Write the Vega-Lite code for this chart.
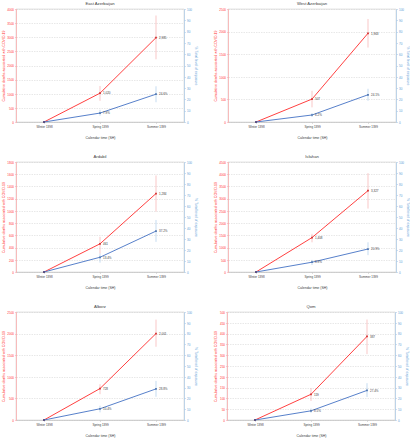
{
  "$schema": "https://vega.github.io/schema/vega-lite/v6.json",
  "padding": {"top": 1, "left": 1, "right": 0, "bottom": 0},
  "background": "white",
  "spacing": 14,
  "datasets": {
    "d": [
      {"r": "East Azerbaijan", "s": "Winter 1398", "d": 0, "p": 0},
      {"r": "East Azerbaijan", "s": "Spring 1399", "d": 1020, "dl": 750, "dh": 1275, "p": 7.9, "pl": 5.6, "ph": 10.8, "plab": "7.9%"},
      {"r": "East Azerbaijan", "s": "Summer 1399", "d": 2985, "dl": 2220, "dh": 3770, "p": 24.6, "pl": 17.5, "ph": 31.6, "plab": "24.6%"},
      {"r": "West Azerbaijan", "s": "Winter 1398", "d": 0, "p": 0},
      {"r": "West Azerbaijan", "s": "Spring 1399", "d": 507, "dl": 324, "dh": 691, "p": 6.2, "pl": 4.4, "ph": 7.9, "plab": "6.2%"},
      {"r": "West Azerbaijan", "s": "Summer 1399", "d": 1963, "dl": 1647, "dh": 2279, "p": 24.1, "pl": 18.8, "ph": 29.4, "plab": "24.1%"},
      {"r": "Ardabil", "s": "Winter 1398", "d": 0, "p": 0},
      {"r": "Ardabil", "s": "Spring 1399", "d": 461, "dl": 302, "dh": 576, "p": 13.4, "pl": 8.5, "ph": 16.8, "plab": "13.4%"},
      {"r": "Ardabil", "s": "Summer 1399", "d": 1284, "dl": 988, "dh": 1580, "p": 37.2, "pl": 27.4, "ph": 47.3, "plab": "37.2%"},
      {"r": "Isfahan", "s": "Winter 1398", "d": 0, "p": 0},
      {"r": "Isfahan", "s": "Spring 1399", "d": 1408, "dl": 1215, "dh": 1560, "p": 8.9, "pl": 6.4, "ph": 11.0, "plab": "8.9%"},
      {"r": "Isfahan", "s": "Summer 1399", "d": 3327, "dl": 2595, "dh": 4044, "p": 20.9, "pl": 15.3, "ph": 27.0, "plab": "20.9%"},
      {"r": "Alborz", "s": "Winter 1398", "d": 0, "p": 0},
      {"r": "Alborz", "s": "Spring 1399", "d": 728, "dl": 598, "dh": 828, "p": 10.4, "pl": 7.1, "ph": 13.2, "plab": "10.4%"},
      {"r": "Alborz", "s": "Summer 1399", "d": 2001, "dl": 1695, "dh": 2324, "p": 28.8, "pl": 21.5, "ph": 36.2, "plab": "28.8%"},
      {"r": "Qom", "s": "Winter 1398", "d": 0, "p": 0},
      {"r": "Qom", "s": "Spring 1399", "d": 119, "dl": 88, "dh": 148, "p": 8.5, "pl": 6.7, "ph": 10.7, "plab": "8.5%"},
      {"r": "Qom", "s": "Summer 1399", "d": 387, "dl": 305, "dh": 465, "p": 27.4, "pl": 21.3, "ph": 34.1, "plab": "27.4%"}
    ]
  },
  "config": {
    "font": "Liberation Sans",
    "view": {"stroke": "#c8c8c8", "strokeWidth": 0.6},
    "title": {"fontSize": 4.2, "fontWeight": "normal", "offset": 2, "color": "#404040"},
    "axis": {"labelFontSize": 3, "titleFontSize": 3.5, "titleFontWeight": "normal", "tickSize": 1.5, "labelPadding": 1, "titlePadding": 1.5, "domainWidth": 0.6, "tickWidth": 0.5, "labelOverlap": false, "labelFlush": false},
    "axisX": {"labelAngle": 0, "labelColor": "#404040", "titleColor": "#404040", "domainColor": "#bfbfbf", "tickColor": "#bfbfbf", "titlePadding": 7, "grid": false, "labelPadding": 2},
    "axisLeft": {"labelColor": "#ff3030", "titleColor": "#ff3030", "domainColor": "#ff9a9a", "tickColor": "#ff9a9a", "grid": true, "gridColor": "#d0d0d0", "gridDash": [1.5, 1], "gridWidth": 0.5, "format": "d"},
    "axisRight": {"labelColor": "#5b9bd5", "titleColor": "#5b9bd5", "domainColor": "#9dc3e6", "tickColor": "#9dc3e6", "grid": false, "format": "d"}
  },
  "vconcat": [
    {"spacing": 15, "hconcat": [
      {
        "title": "East Azerbaijan", "width": 168, "height": 113,
        "data": {"name": "d"}, "transform": [{"filter": "datum.r == 'East Azerbaijan'"}],
        "encoding": {"x": {"field": "s", "type": "ordinal", "sort": ["Winter 1398", "Spring 1399", "Summer 1399"], "scale": {"type": "point", "padding": 0.5}, "title": "Calendar time (SH)"}},
        "layer": [
          {"layer": [
            {"mark": {"type": "line", "color": "#ff2a2a", "strokeWidth": 0.9, "point": {"shape": "square", "size": 3, "color": "#c00000"}}, "encoding": {"y": {"field": "d", "type": "quantitative", "title": "Cumulative deaths associated with COVID-19", "scale": {"domain": [0, 4000], "nice": false}, "axis": {"values": [0, 500, 1000, 1500, 2000, 2500, 3000, 3500, 4000]}}}},
            {"mark": {"type": "rule", "color": "#f5a3a3", "strokeWidth": 0.6}, "transform": [{"filter": "datum.dl != null"}], "encoding": {"y": {"field": "dl", "type": "quantitative", "title": "Cumulative deaths associated with COVID-19", "axis": {"values": [0, 500, 1000, 1500, 2000, 2500, 3000, 3500, 4000]}}, "y2": {"field": "dh"}}},
            {"mark": {"type": "text", "align": "left", "dx": 3, "fontSize": 3, "color": "#404040"}, "transform": [{"filter": "datum.d > 0"}], "encoding": {"y": {"field": "d", "type": "quantitative", "title": "Cumulative deaths associated with COVID-19", "axis": {"values": [0, 500, 1000, 1500, 2000, 2500, 3000, 3500, 4000]}}, "text": {"field": "d", "type": "quantitative", "format": ",.0f"}}}
          ]},
          {"layer": [
            {"mark": {"type": "line", "color": "#4472c4", "strokeWidth": 0.9, "point": {"shape": "square", "size": 3, "color": "#2f5597"}}, "encoding": {"y": {"field": "p", "type": "quantitative", "title": "% Total level of exposure", "scale": {"domain": [0, 100], "nice": false}, "axis": {"values": [0, 10, 20, 30, 40, 50, 60, 70, 80, 90, 100]}}}},
            {"mark": {"type": "rule", "color": "#9dc3e6", "strokeWidth": 0.6}, "transform": [{"filter": "datum.pl != null"}], "encoding": {"y": {"field": "pl", "type": "quantitative", "title": "% Total level of exposure", "axis": {"values": [0, 10, 20, 30, 40, 50, 60, 70, 80, 90, 100]}}, "y2": {"field": "ph"}}},
            {"mark": {"type": "text", "align": "left", "dx": 3, "fontSize": 3, "color": "#404040"}, "transform": [{"filter": "datum.p > 0"}], "encoding": {"y": {"field": "p", "type": "quantitative", "title": "% Total level of exposure", "axis": {"values": [0, 10, 20, 30, 40, 50, 60, 70, 80, 90, 100]}}, "text": {"field": "plab"}}}
          ]}
        ],
        "resolve": {"scale": {"y": "independent"}}
      },
      {
        "title": "West Azerbaijan", "width": 168, "height": 113,
        "data": {"name": "d"}, "transform": [{"filter": "datum.r == 'West Azerbaijan'"}],
        "encoding": {"x": {"field": "s", "type": "ordinal", "sort": ["Winter 1398", "Spring 1399", "Summer 1399"], "scale": {"type": "point", "padding": 0.5}, "title": "Calendar time (SH)"}},
        "layer": [
          {"layer": [
            {"mark": {"type": "line", "color": "#ff2a2a", "strokeWidth": 0.9, "point": {"shape": "square", "size": 3, "color": "#c00000"}}, "encoding": {"y": {"field": "d", "type": "quantitative", "title": "Cumulative deaths associated with COVID-19", "scale": {"domain": [0, 2500], "nice": false}, "axis": {"values": [0, 500, 1000, 1500, 2000, 2500]}}}},
            {"mark": {"type": "rule", "color": "#f5a3a3", "strokeWidth": 0.6}, "transform": [{"filter": "datum.dl != null"}], "encoding": {"y": {"field": "dl", "type": "quantitative", "title": "Cumulative deaths associated with COVID-19", "axis": {"values": [0, 500, 1000, 1500, 2000, 2500]}}, "y2": {"field": "dh"}}},
            {"mark": {"type": "text", "align": "left", "dx": 3, "fontSize": 3, "color": "#404040"}, "transform": [{"filter": "datum.d > 0"}], "encoding": {"y": {"field": "d", "type": "quantitative", "title": "Cumulative deaths associated with COVID-19", "axis": {"values": [0, 500, 1000, 1500, 2000, 2500]}}, "text": {"field": "d", "type": "quantitative", "format": ",.0f"}}}
          ]},
          {"layer": [
            {"mark": {"type": "line", "color": "#4472c4", "strokeWidth": 0.9, "point": {"shape": "square", "size": 3, "color": "#2f5597"}}, "encoding": {"y": {"field": "p", "type": "quantitative", "title": "% Total level of exposure", "scale": {"domain": [0, 100], "nice": false}, "axis": {"values": [0, 10, 20, 30, 40, 50, 60, 70, 80, 90, 100]}}}},
            {"mark": {"type": "rule", "color": "#9dc3e6", "strokeWidth": 0.6}, "transform": [{"filter": "datum.pl != null"}], "encoding": {"y": {"field": "pl", "type": "quantitative", "title": "% Total level of exposure", "axis": {"values": [0, 10, 20, 30, 40, 50, 60, 70, 80, 90, 100]}}, "y2": {"field": "ph"}}},
            {"mark": {"type": "text", "align": "left", "dx": 3, "fontSize": 3, "color": "#404040"}, "transform": [{"filter": "datum.p > 0"}], "encoding": {"y": {"field": "p", "type": "quantitative", "title": "% Total level of exposure", "axis": {"values": [0, 10, 20, 30, 40, 50, 60, 70, 80, 90, 100]}}, "text": {"field": "plab"}}}
          ]}
        ],
        "resolve": {"scale": {"y": "independent"}}
      }
    ]},
    {"spacing": 15, "hconcat": [
      {
        "title": "Ardabil", "width": 168, "height": 110,
        "data": {"name": "d"}, "transform": [{"filter": "datum.r == 'Ardabil'"}],
        "encoding": {"x": {"field": "s", "type": "ordinal", "sort": ["Winter 1398", "Spring 1399", "Summer 1399"], "scale": {"type": "point", "padding": 0.5}, "title": "Calendar time (SH)"}},
        "layer": [
          {"layer": [
            {"mark": {"type": "line", "color": "#ff2a2a", "strokeWidth": 0.9, "point": {"shape": "square", "size": 3, "color": "#c00000"}}, "encoding": {"y": {"field": "d", "type": "quantitative", "title": "Cumulative deaths associated with COVID-19", "scale": {"domain": [0, 1800], "nice": false}, "axis": {"values": [0, 200, 400, 600, 800, 1000, 1200, 1400, 1600, 1800]}}}},
            {"mark": {"type": "rule", "color": "#f5a3a3", "strokeWidth": 0.6}, "transform": [{"filter": "datum.dl != null"}], "encoding": {"y": {"field": "dl", "type": "quantitative", "title": "Cumulative deaths associated with COVID-19", "axis": {"values": [0, 200, 400, 600, 800, 1000, 1200, 1400, 1600, 1800]}}, "y2": {"field": "dh"}}},
            {"mark": {"type": "text", "align": "left", "dx": 3, "fontSize": 3, "color": "#404040"}, "transform": [{"filter": "datum.d > 0"}], "encoding": {"y": {"field": "d", "type": "quantitative", "title": "Cumulative deaths associated with COVID-19", "axis": {"values": [0, 200, 400, 600, 800, 1000, 1200, 1400, 1600, 1800]}}, "text": {"field": "d", "type": "quantitative", "format": ",.0f"}}}
          ]},
          {"layer": [
            {"mark": {"type": "line", "color": "#4472c4", "strokeWidth": 0.9, "point": {"shape": "square", "size": 3, "color": "#2f5597"}}, "encoding": {"y": {"field": "p", "type": "quantitative", "title": "% Total level of exposure", "scale": {"domain": [0, 100], "nice": false}, "axis": {"values": [0, 10, 20, 30, 40, 50, 60, 70, 80, 90, 100]}}}},
            {"mark": {"type": "rule", "color": "#9dc3e6", "strokeWidth": 0.6}, "transform": [{"filter": "datum.pl != null"}], "encoding": {"y": {"field": "pl", "type": "quantitative", "title": "% Total level of exposure", "axis": {"values": [0, 10, 20, 30, 40, 50, 60, 70, 80, 90, 100]}}, "y2": {"field": "ph"}}},
            {"mark": {"type": "text", "align": "left", "dx": 3, "fontSize": 3, "color": "#404040"}, "transform": [{"filter": "datum.p > 0"}], "encoding": {"y": {"field": "p", "type": "quantitative", "title": "% Total level of exposure", "axis": {"values": [0, 10, 20, 30, 40, 50, 60, 70, 80, 90, 100]}}, "text": {"field": "plab"}}}
          ]}
        ],
        "resolve": {"scale": {"y": "independent"}}
      },
      {
        "title": "Isfahan", "width": 168, "height": 110,
        "data": {"name": "d"}, "transform": [{"filter": "datum.r == 'Isfahan'"}],
        "encoding": {"x": {"field": "s", "type": "ordinal", "sort": ["Winter 1398", "Spring 1399", "Summer 1399"], "scale": {"type": "point", "padding": 0.5}, "title": "Calendar time (SH)"}},
        "layer": [
          {"layer": [
            {"mark": {"type": "line", "color": "#ff2a2a", "strokeWidth": 0.9, "point": {"shape": "square", "size": 3, "color": "#c00000"}}, "encoding": {"y": {"field": "d", "type": "quantitative", "title": "Cumulative deaths associated with COVID-19", "scale": {"domain": [0, 4500], "nice": false}, "axis": {"values": [0, 500, 1000, 1500, 2000, 2500, 3000, 3500, 4000, 4500]}}}},
            {"mark": {"type": "rule", "color": "#f5a3a3", "strokeWidth": 0.6}, "transform": [{"filter": "datum.dl != null"}], "encoding": {"y": {"field": "dl", "type": "quantitative", "title": "Cumulative deaths associated with COVID-19", "axis": {"values": [0, 500, 1000, 1500, 2000, 2500, 3000, 3500, 4000, 4500]}}, "y2": {"field": "dh"}}},
            {"mark": {"type": "text", "align": "left", "dx": 3, "fontSize": 3, "color": "#404040"}, "transform": [{"filter": "datum.d > 0"}], "encoding": {"y": {"field": "d", "type": "quantitative", "title": "Cumulative deaths associated with COVID-19", "axis": {"values": [0, 500, 1000, 1500, 2000, 2500, 3000, 3500, 4000, 4500]}}, "text": {"field": "d", "type": "quantitative", "format": ",.0f"}}}
          ]},
          {"layer": [
            {"mark": {"type": "line", "color": "#4472c4", "strokeWidth": 0.9, "point": {"shape": "square", "size": 3, "color": "#2f5597"}}, "encoding": {"y": {"field": "p", "type": "quantitative", "title": "% Total level of exposure", "scale": {"domain": [0, 100], "nice": false}, "axis": {"values": [0, 10, 20, 30, 40, 50, 60, 70, 80, 90, 100]}}}},
            {"mark": {"type": "rule", "color": "#9dc3e6", "strokeWidth": 0.6}, "transform": [{"filter": "datum.pl != null"}], "encoding": {"y": {"field": "pl", "type": "quantitative", "title": "% Total level of exposure", "axis": {"values": [0, 10, 20, 30, 40, 50, 60, 70, 80, 90, 100]}}, "y2": {"field": "ph"}}},
            {"mark": {"type": "text", "align": "left", "dx": 3, "fontSize": 3, "color": "#404040"}, "transform": [{"filter": "datum.p > 0"}], "encoding": {"y": {"field": "p", "type": "quantitative", "title": "% Total level of exposure", "axis": {"values": [0, 10, 20, 30, 40, 50, 60, 70, 80, 90, 100]}}, "text": {"field": "plab"}}}
          ]}
        ],
        "resolve": {"scale": {"y": "independent"}}
      }
    ]},
    {"spacing": 15, "hconcat": [
      {
        "title": "Alborz", "width": 168, "height": 108,
        "data": {"name": "d"}, "transform": [{"filter": "datum.r == 'Alborz'"}],
        "encoding": {"x": {"field": "s", "type": "ordinal", "sort": ["Winter 1398", "Spring 1399", "Summer 1399"], "scale": {"type": "point", "padding": 0.5}, "title": "Calendar time (SH)"}},
        "layer": [
          {"layer": [
            {"mark": {"type": "line", "color": "#ff2a2a", "strokeWidth": 0.9, "point": {"shape": "square", "size": 3, "color": "#c00000"}}, "encoding": {"y": {"field": "d", "type": "quantitative", "title": "Cumulative deaths associated with COVID-19", "scale": {"domain": [0, 2500], "nice": false}, "axis": {"values": [0, 500, 1000, 1500, 2000, 2500]}}}},
            {"mark": {"type": "rule", "color": "#f5a3a3", "strokeWidth": 0.6}, "transform": [{"filter": "datum.dl != null"}], "encoding": {"y": {"field": "dl", "type": "quantitative", "title": "Cumulative deaths associated with COVID-19", "axis": {"values": [0, 500, 1000, 1500, 2000, 2500]}}, "y2": {"field": "dh"}}},
            {"mark": {"type": "text", "align": "left", "dx": 3, "fontSize": 3, "color": "#404040"}, "transform": [{"filter": "datum.d > 0"}], "encoding": {"y": {"field": "d", "type": "quantitative", "title": "Cumulative deaths associated with COVID-19", "axis": {"values": [0, 500, 1000, 1500, 2000, 2500]}}, "text": {"field": "d", "type": "quantitative", "format": ",.0f"}}}
          ]},
          {"layer": [
            {"mark": {"type": "line", "color": "#4472c4", "strokeWidth": 0.9, "point": {"shape": "square", "size": 3, "color": "#2f5597"}}, "encoding": {"y": {"field": "p", "type": "quantitative", "title": "% Total level of exposure", "scale": {"domain": [0, 100], "nice": false}, "axis": {"values": [0, 10, 20, 30, 40, 50, 60, 70, 80, 90, 100]}}}},
            {"mark": {"type": "rule", "color": "#9dc3e6", "strokeWidth": 0.6}, "transform": [{"filter": "datum.pl != null"}], "encoding": {"y": {"field": "pl", "type": "quantitative", "title": "% Total level of exposure", "axis": {"values": [0, 10, 20, 30, 40, 50, 60, 70, 80, 90, 100]}}, "y2": {"field": "ph"}}},
            {"mark": {"type": "text", "align": "left", "dx": 3, "fontSize": 3, "color": "#404040"}, "transform": [{"filter": "datum.p > 0"}], "encoding": {"y": {"field": "p", "type": "quantitative", "title": "% Total level of exposure", "axis": {"values": [0, 10, 20, 30, 40, 50, 60, 70, 80, 90, 100]}}, "text": {"field": "plab"}}}
          ]}
        ],
        "resolve": {"scale": {"y": "independent"}}
      },
      {
        "title": "Qom", "width": 168, "height": 108,
        "data": {"name": "d"}, "transform": [{"filter": "datum.r == 'Qom'"}],
        "encoding": {"x": {"field": "s", "type": "ordinal", "sort": ["Winter 1398", "Spring 1399", "Summer 1399"], "scale": {"type": "point", "padding": 0.5}, "title": "Calendar time (SH)"}},
        "layer": [
          {"layer": [
            {"mark": {"type": "line", "color": "#ff2a2a", "strokeWidth": 0.9, "point": {"shape": "square", "size": 3, "color": "#c00000"}}, "encoding": {"y": {"field": "d", "type": "quantitative", "title": "Cumulative deaths associated with COVID-19", "scale": {"domain": [0, 500], "nice": false}, "axis": {"values": [0, 50, 100, 150, 200, 250, 300, 350, 400, 450, 500]}}}},
            {"mark": {"type": "rule", "color": "#f5a3a3", "strokeWidth": 0.6}, "transform": [{"filter": "datum.dl != null"}], "encoding": {"y": {"field": "dl", "type": "quantitative", "title": "Cumulative deaths associated with COVID-19", "axis": {"values": [0, 50, 100, 150, 200, 250, 300, 350, 400, 450, 500]}}, "y2": {"field": "dh"}}},
            {"mark": {"type": "text", "align": "left", "dx": 3, "fontSize": 3, "color": "#404040"}, "transform": [{"filter": "datum.d > 0"}], "encoding": {"y": {"field": "d", "type": "quantitative", "title": "Cumulative deaths associated with COVID-19", "axis": {"values": [0, 50, 100, 150, 200, 250, 300, 350, 400, 450, 500]}}, "text": {"field": "d", "type": "quantitative", "format": ",.0f"}}}
          ]},
          {"layer": [
            {"mark": {"type": "line", "color": "#4472c4", "strokeWidth": 0.9, "point": {"shape": "square", "size": 3, "color": "#2f5597"}}, "encoding": {"y": {"field": "p", "type": "quantitative", "title": "% Total level of exposure", "scale": {"domain": [0, 100], "nice": false}, "axis": {"values": [0, 10, 20, 30, 40, 50, 60, 70, 80, 90, 100]}}}},
            {"mark": {"type": "rule", "color": "#9dc3e6", "strokeWidth": 0.6}, "transform": [{"filter": "datum.pl != null"}], "encoding": {"y": {"field": "pl", "type": "quantitative", "title": "% Total level of exposure", "axis": {"values": [0, 10, 20, 30, 40, 50, 60, 70, 80, 90, 100]}}, "y2": {"field": "ph"}}},
            {"mark": {"type": "text", "align": "left", "dx": 3, "fontSize": 3, "color": "#404040"}, "transform": [{"filter": "datum.p > 0"}], "encoding": {"y": {"field": "p", "type": "quantitative", "title": "% Total level of exposure", "axis": {"values": [0, 10, 20, 30, 40, 50, 60, 70, 80, 90, 100]}}, "text": {"field": "plab"}}}
          ]}
        ],
        "resolve": {"scale": {"y": "independent"}}
      }
    ]}
  ]
}
